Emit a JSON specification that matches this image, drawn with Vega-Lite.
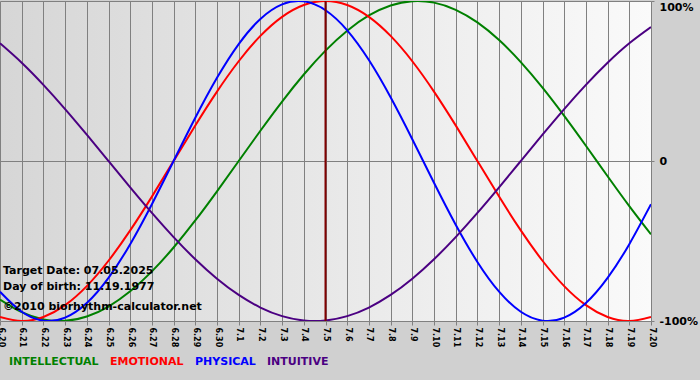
{
  "$schema": "https://vega.github.io/schema/vega-lite/v6.json",
  "width": 651,
  "height": 320,
  "autosize": {"type": "none"},
  "padding": {"left": 0, "top": 1, "right": 49, "bottom": 59},
  "background": "#d0d0d0",
  "config": {
    "view": {
      "stroke": null,
      "fill": {"gradient": "linear", "x1": 0, "y1": 0, "x2": 1, "y2": 0,
        "stops": [{"offset": 0, "color": "#d6d6d6"}, {"offset": 1, "color": "#fafafa"}]}
    },
    "font": "DejaVu Sans",
    "legend": {
      "orient": "none",
      "legendX": -2,
      "legendY": 355,
      "direction": "horizontal",
      "columns": 4,
      "padding": 0,
      "symbolSize": 0,
      "symbolStrokeWidth": 0,
      "symbolOpacity": 0,
      "labelOffset": 0,
      "columnPadding": -2,
      "labelFont": "DejaVu Sans",
      "labelFontWeight": "bold",
      "labelFontSize": 11,
      "labelLimit": 0
    }
  },
  "layer": [
    {
      "data": {"values": [
        {"date": "2025-06-20", "INTELLECTUAL": -86.6, "EMOTIONAL": -97.49, "PHYSICAL": -81.7, "INTUITIVE": 73.57},
        {"date": "2025-06-21", "INTELLECTUAL": -94.5, "EMOTIONAL": -100, "PHYSICAL": -94.23, "INTUITIVE": 61.42},
        {"date": "2025-06-22", "INTELLECTUAL": -98.98, "EMOTIONAL": -97.49, "PHYSICAL": -99.77, "INTUITIVE": 47.59},
        {"date": "2025-06-23", "INTELLECTUAL": -99.89, "EMOTIONAL": -90.1, "PHYSICAL": -97.91, "INTUITIVE": 32.47},
        {"date": "2025-06-24", "INTELLECTUAL": -97.18, "EMOTIONAL": -78.18, "PHYSICAL": -88.79, "INTUITIVE": 16.46},
        {"date": "2025-06-25", "INTELLECTUAL": -90.96, "EMOTIONAL": -62.35, "PHYSICAL": -73.08, "INTUITIVE": 0},
        {"date": "2025-06-26", "INTELLECTUAL": -81.46, "EMOTIONAL": -43.39, "PHYSICAL": -51.96, "INTUITIVE": -16.46},
        {"date": "2025-06-27", "INTELLECTUAL": -69.01, "EMOTIONAL": -22.25, "PHYSICAL": -26.98, "INTUITIVE": -32.47},
        {"date": "2025-06-28", "INTELLECTUAL": -54.06, "EMOTIONAL": 0, "PHYSICAL": 0, "INTUITIVE": -47.59},
        {"date": "2025-06-29", "INTELLECTUAL": -37.17, "EMOTIONAL": 22.25, "PHYSICAL": 26.98, "INTUITIVE": -61.42},
        {"date": "2025-06-30", "INTELLECTUAL": -18.93, "EMOTIONAL": 43.39, "PHYSICAL": 51.96, "INTUITIVE": -73.57},
        {"date": "2025-07-01", "INTELLECTUAL": 0, "EMOTIONAL": 62.35, "PHYSICAL": 73.08, "INTUITIVE": -83.72},
        {"date": "2025-07-02", "INTELLECTUAL": 18.93, "EMOTIONAL": 78.18, "PHYSICAL": 88.79, "INTUITIVE": -91.58},
        {"date": "2025-07-03", "INTELLECTUAL": 37.17, "EMOTIONAL": 90.1, "PHYSICAL": 97.91, "INTUITIVE": -96.94},
        {"date": "2025-07-04", "INTELLECTUAL": 54.06, "EMOTIONAL": 97.49, "PHYSICAL": 99.77, "INTUITIVE": -99.66},
        {"date": "2025-07-05", "INTELLECTUAL": 69.01, "EMOTIONAL": 100, "PHYSICAL": 94.23, "INTUITIVE": -99.66},
        {"date": "2025-07-06", "INTELLECTUAL": 81.46, "EMOTIONAL": 97.49, "PHYSICAL": 81.7, "INTUITIVE": -96.94},
        {"date": "2025-07-07", "INTELLECTUAL": 90.96, "EMOTIONAL": 90.1, "PHYSICAL": 63.11, "INTUITIVE": -91.58},
        {"date": "2025-07-08", "INTELLECTUAL": 97.18, "EMOTIONAL": 78.18, "PHYSICAL": 39.84, "INTUITIVE": -83.72},
        {"date": "2025-07-09", "INTELLECTUAL": 99.89, "EMOTIONAL": 62.35, "PHYSICAL": 13.62, "INTUITIVE": -73.57},
        {"date": "2025-07-10", "INTELLECTUAL": 98.98, "EMOTIONAL": 43.39, "PHYSICAL": -13.62, "INTUITIVE": -61.42},
        {"date": "2025-07-11", "INTELLECTUAL": 94.5, "EMOTIONAL": 22.25, "PHYSICAL": -39.84, "INTUITIVE": -47.59},
        {"date": "2025-07-12", "INTELLECTUAL": 86.6, "EMOTIONAL": 0, "PHYSICAL": -63.11, "INTUITIVE": -32.47},
        {"date": "2025-07-13", "INTELLECTUAL": 75.57, "EMOTIONAL": -22.25, "PHYSICAL": -81.7, "INTUITIVE": -16.46},
        {"date": "2025-07-14", "INTELLECTUAL": 61.82, "EMOTIONAL": -43.39, "PHYSICAL": -94.23, "INTUITIVE": 0},
        {"date": "2025-07-15", "INTELLECTUAL": 45.82, "EMOTIONAL": -62.35, "PHYSICAL": -99.77, "INTUITIVE": 16.46},
        {"date": "2025-07-16", "INTELLECTUAL": 28.17, "EMOTIONAL": -78.18, "PHYSICAL": -97.91, "INTUITIVE": 32.47},
        {"date": "2025-07-17", "INTELLECTUAL": 9.51, "EMOTIONAL": -90.1, "PHYSICAL": -88.79, "INTUITIVE": 47.59},
        {"date": "2025-07-18", "INTELLECTUAL": -9.51, "EMOTIONAL": -97.49, "PHYSICAL": -73.08, "INTUITIVE": 61.42},
        {"date": "2025-07-19", "INTELLECTUAL": -28.17, "EMOTIONAL": -100, "PHYSICAL": -51.96, "INTUITIVE": 73.57},
        {"date": "2025-07-20", "INTELLECTUAL": -45.82, "EMOTIONAL": -97.49, "PHYSICAL": -26.98, "INTUITIVE": 83.72}
      ]},
      "transform": [{"fold": ["INTELLECTUAL", "EMOTIONAL", "PHYSICAL", "INTUITIVE"], "as": ["series", "value"]}],
      "mark": {"type": "line", "interpolate": "natural", "strokeWidth": 2, "clip": true},
      "encoding": {
        "x": {
          "field": "date", "type": "temporal",
          "scale": {"type": "utc", "domain": [{"year": 2025, "month": 6, "date": 20, "utc": true}, {"year": 2025, "month": 7, "date": 20, "utc": true}]},
          "axis": {
            "orient": "bottom", "format": "%-m.%-d",
            "tickCount": {"interval": "day", "step": 1},
            "labelAngle": 90, "labelOverlap": false, "labelBound": false, "labelFlush": false,
            "grid": true, "gridColor": "#808080", "gridOpacity": 1, "gridWidth": 1,
            "tickColor": "#808080", "tickSize": 4, "domain": false,
            "labelFont": "DejaVu Sans", "labelFontWeight": "bold", "labelFontSize": 8,
            "labelColor": "#000000", "labelPadding": 2, "title": null
          }
        },
        "y": {
          "field": "value", "type": "quantitative",
          "scale": {"domain": [-100, 100], "nice": false},
          "axis": {
            "orient": "right", "values": [-100, 0, 100],
            "labelExpr": "datum.value == 0 ? '0' : datum.value + '%'",
            "grid": true, "gridColor": "#808080", "gridOpacity": 1,
            "tickColor": "#808080", "tickSize": 3, "domain": false,
            "labelFont": "DejaVu Sans", "labelFontWeight": "bold", "labelFontSize": 11,
            "labelColor": "#000000", "labelPadding": 5,
            "labelBaseline": {"condition": {"test": "datum.value == 100", "value": "top"}, "value": "middle"},
            "title": null
          }
        },
        "color": {
          "field": "series", "type": "nominal",
          "scale": {"domain": ["INTELLECTUAL", "EMOTIONAL", "PHYSICAL", "INTUITIVE"], "range": ["#008000", "#ff0000", "#0000ff", "#4b0082"]},
          "legend": {
            "title": null,
            "labelColor": {"expr": "datum.label == 'INTELLECTUAL' ? '#008000' : datum.label == 'EMOTIONAL' ? '#ff0000' : datum.label == 'PHYSICAL' ? '#0000ff' : '#4b0082'"}
          }
        }
      }
    },
    {
      "data": {"values": [{"date": "2025-07-05"}]},
      "mark": {"type": "rule", "color": "#800000", "strokeWidth": 2},
      "encoding": {"x": {"field": "date", "type": "temporal"}}
    },
    {
      "data": {"values": [
        {"date": "2025-06-20", "pos": -68.75, "label": "Target Date: 07.05.2025"},
        {"date": "2025-06-20", "pos": -78.75, "label": "Day of birth: 11.19.1977"},
        {"date": "2025-06-20", "pos": -91.25, "label": "©2010 biorhythm-calculator.net"}
      ]},
      "mark": {"type": "text", "align": "left", "baseline": "middle", "dx": 3, "font": "DejaVu Sans", "fontWeight": "bold", "fontSize": 11, "color": "#000000"},
      "encoding": {
        "x": {"field": "date", "type": "temporal"},
        "y": {"field": "pos", "type": "quantitative"},
        "text": {"field": "label"}
      }
    }
  ]
}
